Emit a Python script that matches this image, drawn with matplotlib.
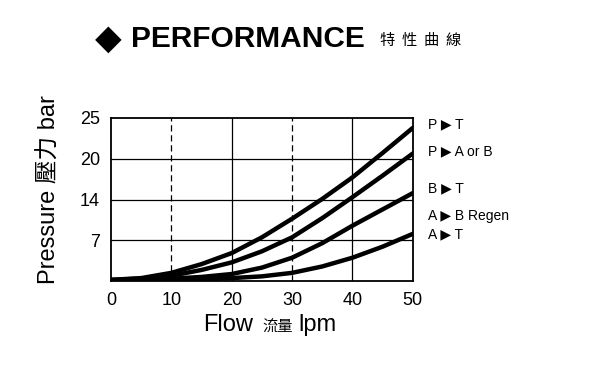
import numpy as np
import matplotlib as mpl
mpl.use("Agg")
from matplotlib import pyplot as plt

# fonts
FONTS = ['Liberation Sans', 'DejaVu Sans', 'Noto Sans CJK TC']
plt.rcParams['font.family'] = FONTS

# data (flow lpm vs pressure, y-axis in grid units 0-28)
flow = [0, 5, 10, 15, 20, 25, 30, 35, 40, 45, 50]
p_to_t = [0.2, 0.5, 1.4, 2.9, 4.8, 7.5, 10.7, 14.1, 17.8, 22.0, 26.3]
p_to_ab = [0.2, 0.4, 0.9, 1.9, 3.2, 5.1, 7.5, 10.8, 14.4, 18.1, 21.9]
b_to_t = [0.1, 0.2, 0.4, 0.7, 1.2, 2.3, 4.0, 6.5, 9.5, 12.3, 15.1]
a_to_t = [0.1, 0.1, 0.2, 0.3, 0.5, 0.8, 1.4, 2.5, 4.0, 5.9, 8.1]

x_ticks = [0, 10, 20, 30, 40, 50]
y_ticks = [7, 14, 21, 28]
y_labels = ['7', '14', '20', '25']

curve_labels = ['P \u25b6 T', 'P \u25b6 A or B', 'B \u25b6 T', 'A \u25b6 B Regen', 'A \u25b6 T']
label_y = [26.9, 22.3, 16.0, 11.2, 8.0]

fig = plt.figure(figsize=(6, 3.8), dpi=100)
ax = fig.add_axes([0.185, 0.2605, 0.503, 0.429])

for ys in [p_to_t, p_to_ab, b_to_t, a_to_t]:
    ax.plot(flow, ys, color='black', lw=3.2, solid_capstyle='round',
            solid_joinstyle='round')

ax.set_xlim(0, 50)
ax.set_ylim(0, 28)

# grid
for yv in y_ticks[:-1]:
    ax.axhline(yv, color='black', lw=0.9)
for xv in [10, 30]:
    ax.axvline(xv, color='black', lw=0.9, ls=(0, (5, 3)))
for xv in [20, 40]:
    ax.axvline(xv, color='black', lw=0.9)

for sp in ax.spines.values():
    sp.set_linewidth(1.3)

ax.set_xticks(x_ticks)
ax.set_yticks(y_ticks)
ax.set_yticklabels(y_labels)
ax.tick_params(length=0, labelsize=13, pad=8)

fig.text(0.338, 0.128, 'Flow', fontsize=17, ha='left', va='baseline')
fig.text(0.437, 0.128, '流量', fontsize=11, ha='left', va='baseline', family=['Noto Sans CJK TC'])
fig.text(0.498, 0.128, 'lpm', fontsize=17, ha='left', va='baseline')

fig.text(0.082, 0.50, 'Pressure 壓力 bar', fontsize=17, rotation=90,
         ha='center', va='center', family=FONTS)

for lab, yv in zip(curve_labels, label_y):
    ax.text(1.05, yv, lab, transform=ax.get_yaxis_transform(), fontsize=10,
            va='center', ha='left', clip_on=False)

fig.text(0.158, 0.898, '\u25c6', fontsize=25, fontweight='bold', va='center', ha='left',
         family=['DejaVu Sans'])
fig.text(0.218, 0.898, 'PERFORMANCE', fontsize=21.5, fontweight='bold', va='center', ha='left')
fig.text(0.633, 0.893, '特  性  曲  線', fontsize=11, va='center', ha='left',
         family=['Noto Sans CJK TC'])

fig.savefig('out.png', dpi=100)
